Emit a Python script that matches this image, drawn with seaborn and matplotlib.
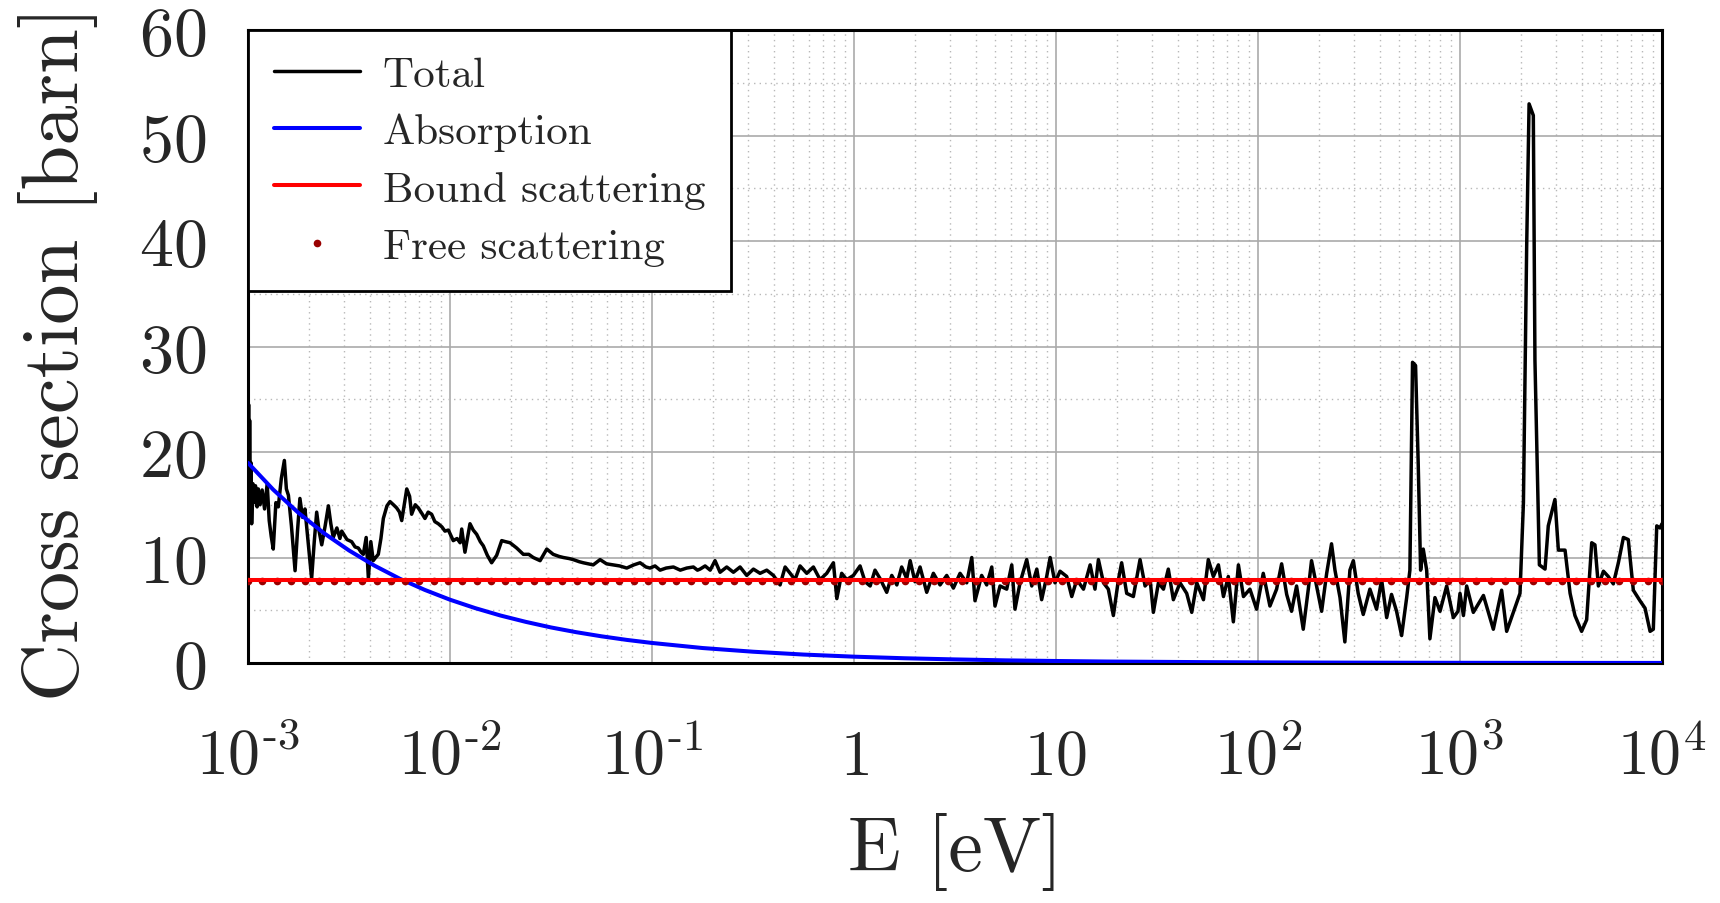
import numpy as np
import matplotlib
matplotlib.use("Agg")
import matplotlib.pyplot as plt
from matplotlib.ticker import FixedLocator, MultipleLocator, LogLocator, NullFormatter
import seaborn as sns

# ---------------- data ----------------
# Total cross section: log10(E/eV) and value in barn
total_exp = [
    -3.000, -2.997, -2.994, -2.992, -2.989, -2.986, -2.982, -2.976, -2.970, -2.963,
    -2.955, -2.949, -2.940, -2.930, -2.918, -2.905, -2.895, -2.885, -2.875, -2.862,
    -2.850, -2.835, -2.820, -2.810, -2.800, -2.785, -2.767, -2.755, -2.743, -2.730,
    -2.718, -2.700, -2.685, -2.672, -2.660, -2.648, -2.635, -2.618, -2.602, -2.590,
    -2.578, -2.560, -2.545, -2.536, -2.510, -2.487, -2.470, -2.454, -2.440, -2.429,
    -2.415, -2.404, -2.392, -2.380, -2.368, -2.355, -2.342, -2.330, -2.312, -2.297,
    -2.280, -2.264, -2.250, -2.239, -2.225, -2.214, -2.200, -2.190, -2.172, -2.157,
    -2.140, -2.124, -2.108, -2.091, -2.075, -2.058, -2.040, -2.025,
    -2.008, -1.984, -1.965, -1.950, -1.942, -1.926, -1.901, -1.885, -1.868, -1.850,
    -1.835, -1.815, -1.794, -1.769, -1.744, -1.725, -1.703, -1.670, -1.637, -1.610,
    -1.588, -1.554, -1.521, -1.489, -1.460, -1.439, -1.410, -1.390, -1.360, -1.340,
    -1.315, -1.291, -1.257, -1.225, -1.192, -1.160, -1.125, -1.090, -1.059, -1.030,
    -1.010, -0.985, -0.960, -0.930, -0.894, -0.860, -0.828, -0.795, -0.775,
    -0.762, -0.737, -0.712, -0.688, -0.663, -0.630, -0.597, -0.564, -0.531, -0.498,
    -0.465, -0.432, -0.399, -0.366, -0.341, -0.316, -0.292, -0.267, -0.234, -0.201,
    -0.168, -0.135, -0.102, -0.085, -0.061, -0.036, -0.003, 0.030, 0.055, 0.080,
    0.104, 0.129, 0.162, 0.187, 0.212, 0.236, 0.261, 0.278, 0.302, 0.327,
    0.360, 0.393, 0.426, 0.459, 0.492, 0.525, 0.558, 0.583, 0.599, 0.632,
    0.657, 0.682, 0.698,
    0.723, 0.756, 0.781, 0.797, 0.822, 0.855, 0.880, 0.905, 0.929, 0.954,
    0.971, 0.995, 1.020, 1.053, 1.078, 1.103, 1.136, 1.169, 1.193, 1.210,
    1.235, 1.259, 1.284, 1.309, 1.325, 1.350, 1.383, 1.416, 1.441, 1.466,
    1.482, 1.507, 1.532, 1.556, 1.581, 1.614, 1.647, 1.672, 1.697, 1.730,
    1.754, 1.779, 1.804, 1.829, 1.853, 1.878, 1.903, 1.928,
    1.960, 1.993, 2.026, 2.059, 2.092, 2.117, 2.142, 2.166, 2.191, 2.224,
    2.249, 2.265, 2.290, 2.315, 2.340, 2.364, 2.381, 2.406, 2.430, 2.455,
    2.472, 2.496, 2.521, 2.554, 2.587, 2.612, 2.637, 2.661, 2.686, 2.711,
    2.736, 2.752, 2.765, 2.780, 2.793, 2.805, 2.818, 2.835, 2.851, 2.876,
    2.901, 2.934, 2.967, 2.990,
    3.000, 3.017, 3.033, 3.066, 3.116, 3.165, 3.206, 3.231, 3.264, 3.297,
    3.314, 3.330, 3.342, 3.363, 3.371, 3.393, 3.421, 3.437, 3.470, 3.487,
    3.520, 3.545, 3.569, 3.602, 3.627, 3.652, 3.668, 3.685, 3.710, 3.734,
    3.759, 3.784, 3.809, 3.833, 3.858, 3.891, 3.916, 3.941, 3.957, 3.974,
    3.990, 4.000,
]
total_val = [
    16.1, 24.5, 15.0, 23.0, 13.5, 19.0, 13.2, 17.0, 15.2, 16.8,
    14.8, 16.5, 15.0, 16.4, 14.6, 17.0, 13.5, 12.0, 10.8, 15.2,
    14.8, 17.5, 19.2, 16.5, 15.9, 13.0, 8.75, 12.5, 15.6, 13.8,
    14.6, 11.0, 8.0, 11.5, 14.3, 12.5, 11.2, 13.0, 14.9, 13.2,
    11.9, 12.8, 11.8, 12.5, 11.7, 11.5, 11.0, 10.9, 10.5, 10.3,
    11.9, 8.0, 11.5, 9.7, 10.0, 10.3, 11.8, 13.7, 14.9, 15.3,
    15.0, 14.7, 14.3, 13.5, 15.2, 16.5, 15.8, 14.1, 15.0, 14.7,
    14.2, 13.7, 14.3, 14.1, 13.4, 13.2, 12.9, 12.5,
    12.6, 11.6, 11.8, 11.4, 12.7, 10.5, 13.2, 12.6, 12.2, 11.5,
    11.1, 10.2, 9.5, 10.2, 11.6, 11.5, 11.4, 10.9, 10.3, 10.3,
    10.0, 9.7, 10.8, 10.3, 10.1, 10.0, 9.9, 9.8, 9.6, 9.5,
    9.4, 9.3, 9.8, 9.4, 9.3, 9.2, 9.0, 9.3, 9.5, 9.1,
    9.0, 9.2, 8.8, 9.0, 9.1, 8.8, 9.0, 9.1, 8.8,
    8.9, 9.2, 8.8, 9.7, 8.6, 9.1, 8.6, 9.1, 8.3, 8.9,
    8.5, 8.8, 8.3, 7.4, 9.1, 8.5, 7.9, 9.2, 8.5, 9.1,
    7.9, 8.5, 9.5, 6.1, 8.5, 7.9, 8.3, 9.2, 7.7, 7.3,
    8.8, 8.0, 6.7, 8.3, 7.4, 9.1, 8.0, 9.7, 7.7, 9.1,
    6.7, 8.5, 7.4, 8.3, 7.1, 8.5, 7.6, 10.0, 5.9, 8.3,
    7.4, 9.1, 5.4,
    7.3, 7.0, 9.3, 5.1, 7.6, 9.8, 7.3, 8.9, 6.0, 8.2,
    10.0, 7.6, 8.7, 8.2, 6.3, 7.9, 7.0, 9.3, 7.0, 9.8,
    7.6, 7.0, 4.5, 7.9, 9.5, 6.6, 6.3, 9.8, 7.3, 7.9,
    4.8, 7.6, 7.0, 8.9, 6.0, 7.6, 6.6, 4.8, 7.6, 6.0,
    9.8, 8.2, 9.3, 6.3, 8.2, 3.9, 9.3, 6.3,
    7.0, 5.1, 8.5, 5.4, 7.0, 9.4, 6.5, 4.9, 7.3, 3.2,
    7.0, 9.7, 7.3, 4.9, 8.5, 11.3, 8.8, 6.2, 2.0, 8.8,
    9.7, 6.6, 4.6, 7.0, 5.1, 7.9, 4.3, 6.5, 4.9, 2.6,
    6.2, 8.8, 28.5, 28.2, 19.0, 8.8, 10.8, 8.8, 2.3, 6.2,
    4.9, 7.3, 4.3, 4.9,
    6.6, 4.5, 7.3, 4.8, 6.4, 3.2, 6.9, 3.0, 4.8, 6.6,
    15.2, 39.4, 53.0, 51.9, 28.7, 9.3, 8.9, 13.0, 15.5, 10.7,
    10.7, 6.6, 4.5, 3.0, 4.1, 11.4, 11.2, 7.3, 8.7, 8.2,
    7.5, 9.5, 11.9, 11.7, 6.9, 5.9, 5.2, 3.0, 3.2, 13.0,
    12.8, 13.2,
]

# Absorption (1/v shape)
absorption_exp = [
    -3.0, -2.875, -2.75, -2.625, -2.5, -2.375, -2.25, -2.125, -2.0, -1.875,
    -1.75, -1.625, -1.5, -1.375, -1.25, -1.125, -1.0, -0.75, -0.5, -0.25,
    0.0, 0.25, 0.5, 0.75, 1.0, 1.25, 1.5, 1.75, 2.0, 2.25,
    2.5, 2.75, 3.0, 3.25, 3.5, 3.75, 4.0,
]
absorption_val = [
    18.97, 16.43, 14.23, 12.32, 10.67, 9.24, 8.00, 6.93, 6.00, 5.20,
    4.50, 3.90, 3.37, 2.92, 2.53, 2.19, 1.90, 1.42, 1.07, 0.80,
    0.60, 0.45, 0.34, 0.25, 0.19, 0.14, 0.11, 0.08, 0.06, 0.045,
    0.034, 0.025, 0.019, 0.014, 0.011, 0.008, 0.006,
]

# Bound scattering (flat red line)
bound_exp = [-3.0, 4.0]
bound_val = [7.9, 7.9]

# Free scattering (dark red dots, ~100 points over 7 decades)
free_n = 100
free_val = [7.75] * free_n

xtick_values = [1e-3, 1e-2, 1e-1, 1, 10, 1e2, 1e3, 1e4]
xtick_labels = [r"$10^{\text{-}3}$", r"$10^{\text{-}2}$", r"$10^{\text{-}1}$", r"$1$", r"$10$",
                r"$10^{2}$", r"$10^{3}$", r"$10^{4}$"]
ytick_values = [0, 10, 20, 30, 40, 50, 60]

series_names = ["Total", "Absorption", "Bound scattering", "Free scattering"]

# ---------------- style ----------------
sns.set_style("white")
plt.rcParams["font.family"] = ["cmr10", "DejaVu Serif"]
plt.rcParams["mathtext.fontset"] = "cm"
plt.rcParams["axes.unicode_minus"] = False
plt.rcParams["axes.formatter.use_mathtext"] = True

fig = plt.figure(figsize=(17.2, 9.04), dpi=100)
ax = fig.add_axes([248 / 1720, 240 / 904, 1414 / 1720, 633 / 904])

E_total = 10 ** np.array(total_exp)
E_abs = 10 ** np.array(absorption_exp)
E_bound = 10 ** np.array(bound_exp)
E_free = np.logspace(-3, 4, free_n)

sns.lineplot(x=E_total, y=total_val, ax=ax, color="black", lw=2.5,
             label=series_names[0], sort=False, estimator=None, zorder=3)
sns.lineplot(x=E_abs, y=absorption_val, ax=ax, color="#0000ff", lw=2.9,
             label=series_names[1], sort=False, estimator=None, zorder=4)
sns.lineplot(x=E_free, y=free_val, ax=ax, color="#990000", lw=0,
             marker="o", markersize=5.5, markeredgewidth=0, linestyle="",
             label=series_names[3], sort=False, estimator=None, zorder=5)
sns.lineplot(x=E_bound, y=bound_val, ax=ax, color="#ff0000", lw=2.9,
             label=series_names[2], sort=False, estimator=None, zorder=6)

ax.set_xscale("log")
ax.set_xlim(1e-3, 1e4)
ax.set_ylim(0, 60)

ax.xaxis.set_major_locator(FixedLocator(xtick_values))
ax.set_xticks(xtick_values)
ax.set_xticklabels(xtick_labels, va="baseline")
ax.xaxis.set_minor_locator(LogLocator(base=10, subs=np.arange(2, 10), numticks=100))
ax.xaxis.set_minor_formatter(NullFormatter())
ax.set_yticks(ytick_values)
ax.yaxis.set_minor_locator(MultipleLocator(5))

ax.tick_params(axis="both", which="both", length=0)
ax.tick_params(axis="x", which="major", labelsize=46, pad=80)
ax.tick_params(axis="y", which="major", labelsize=49, pad=30)

ax.grid(True, which="major", color="#aaaaaa", lw=1.2, linestyle="-", zorder=0)
ax.grid(True, which="minor", color="#b8b8b8", lw=1.0, linestyle=(0, (1, 3)), zorder=0)
ax.set_axisbelow(True)

for s in ax.spines.values():
    s.set_visible(True)
    s.set_color("black")
    s.set_linewidth(2.2)

ax.set_xlabel("E [eV]", fontsize=56)
ax.set_ylabel("Cross section [barn]", fontsize=58)
ax.xaxis.set_label_coords(0.5, -0.235)
ax.yaxis.set_label_coords(-0.106, 0.49)

handles, labels = ax.get_legend_handles_labels()
order = [labels.index(n) for n in series_names]
leg = ax.legend([handles[i] for i in order], [labels[i] for i in order],
                loc="upper left", bbox_to_anchor=(0, 1), borderaxespad=0,
                fontsize=31, frameon=True, fancybox=False, framealpha=1,
                edgecolor="black", handlelength=2.0, handletextpad=0.53,
                labelspacing=0.44, borderpad=0.6, numpoints=1)
leg.get_frame().set_linewidth(2.0)
leg.set_zorder(10)

fig.savefig("out.png", dpi=100)
